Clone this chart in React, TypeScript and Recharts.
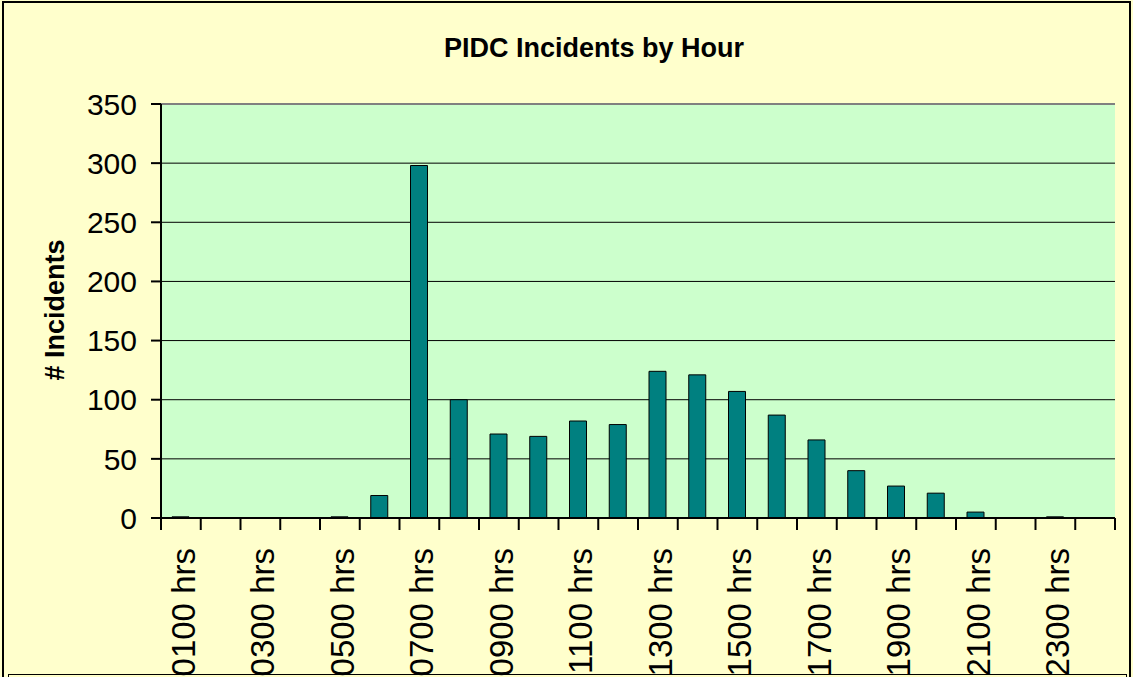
import React from 'react'
import { BarChart, Bar, XAxis, YAxis, CartesianGrid, ReferenceLine } from 'recharts'

const hours = [
  '0100 hrs', '0200 hrs', '0300 hrs', '0400 hrs', '0500 hrs', '0600 hrs',
  '0700 hrs', '0800 hrs', '0900 hrs', '1000 hrs', '1100 hrs', '1200 hrs',
  '1300 hrs', '1400 hrs', '1500 hrs', '1600 hrs', '1700 hrs', '1800 hrs',
  '1900 hrs', '2000 hrs', '2100 hrs', '2200 hrs', '2300 hrs', '2400 hrs',
]
const incidents = [1, 0, 0, 0, 1, 19, 298, 100, 71, 69, 82, 79, 124, 121, 107, 87, 66, 40, 27, 21, 5, 0, 1, 0]
const yTicks = [0, 50, 100, 150, 200, 250, 300, 350]
const gridValues = [50, 100, 150, 200, 250, 300]

const W = 1133
const H = 677
const MARGIN = { top: 104, right: 18, bottom: 0, left: 0 }
const Y_W = 161
const X_H = 159
const BAND = (W - Y_W - MARGIN.right) / hours.length
const FONT = '"Liberation Sans", Arial, sans-serif'

const data = hours.map((h, i) => ({ hour: h, incidents: incidents[i] }))

function HourTick(props: any) {
  const { x, y, payload } = props
  const i = payload.index
  const half = BAND / 2
  return (
    <g>
      <line x1={x - half} x2={x - half} y1={y} y2={y + 12} stroke="#000" strokeWidth={2} />
      {i === hours.length - 1 && (
        <line x1={x + half} x2={x + half} y1={y} y2={y + 12} stroke="#000" strokeWidth={2} />
      )}
      {i % 2 === 0 && (
        <text
          transform={`translate(${x + 14},${y + 30}) rotate(-90)`}
          textAnchor="end"
          fontSize={33}
          fontFamily={FONT}
          fill="#000"
        >
          {payload.value}
        </text>
      )}
    </g>
  )
}

export default function App() {
  return (
    <div
      style={{
        position: 'absolute', left: 0, top: 0, width: W, height: H,
        background: '#FFFFCC', overflow: 'hidden', fontFamily: FONT,
      }}
    >
      <div style={{
        position: 'absolute', left: 2, top: 1, width: W - 8, height: H + 20,
        border: '2px solid #000', borderBottom: 'none',
      }} />
      <div style={{
        position: 'absolute', left: 8, top: 674, width: W - 16, height: 30,
        border: '1px solid #000',
      }} />
      <div style={{
        position: 'absolute', left: 294, top: 35, width: 600, textAlign: 'center',
        fontSize: 27, lineHeight: '27px', fontWeight: 'bold', color: '#000',
      }}>
        PIDC Incidents by Hour
      </div>
      <div style={{
        position: 'absolute', left: 55, top: 310, whiteSpace: 'nowrap',
        transform: 'translate(-50%, -50%) rotate(-90deg)',
        fontSize: 27, lineHeight: '27px', fontWeight: 'bold', color: '#000',
      }}>
        # Incidents
      </div>
      <div style={{ position: 'absolute', left: 0, top: 0 }}>
        <BarChart width={W} height={H} data={data} margin={MARGIN}>
          <CartesianGrid
            vertical={false}
            horizontalValues={gridValues}
            stroke="#000"
            strokeWidth={1}
            fill="#CCFFCC"
            fillOpacity={1}
          />
          <XAxis
            dataKey="hour"
            height={X_H}
            interval={0}
            tickSize={0}
            tickMargin={0}
            tickLine={false}
            axisLine={{ stroke: '#000', strokeWidth: 2 }}
            tick={<HourTick />}
          />
          <YAxis
            width={Y_W}
            domain={[0, 350]}
            ticks={yTicks}
            interval={0}
            tickSize={10}
            tickMargin={14}
            axisLine={{ stroke: '#000', strokeWidth: 2 }}
            tickLine={{ stroke: '#000', strokeWidth: 2 }}
            tick={{ fontSize: 30, fill: '#000', fontFamily: FONT }}
          />
          <YAxis
            yAxisId="frame"
            orientation="right"
            width={0}
            domain={[0, 350]}
            tick={false}
            tickLine={false}
            axisLine={{ stroke: '#808080', strokeWidth: 2 }}
          />
          <ReferenceLine y={350} stroke="#808080" strokeWidth={2} />
          <Bar
            dataKey="incidents"
            fill="#008080"
            stroke="#000"
            strokeWidth={1}
            barSize={17}
            isAnimationActive={false}
          />
        </BarChart>
      </div>
    </div>
  )
}
